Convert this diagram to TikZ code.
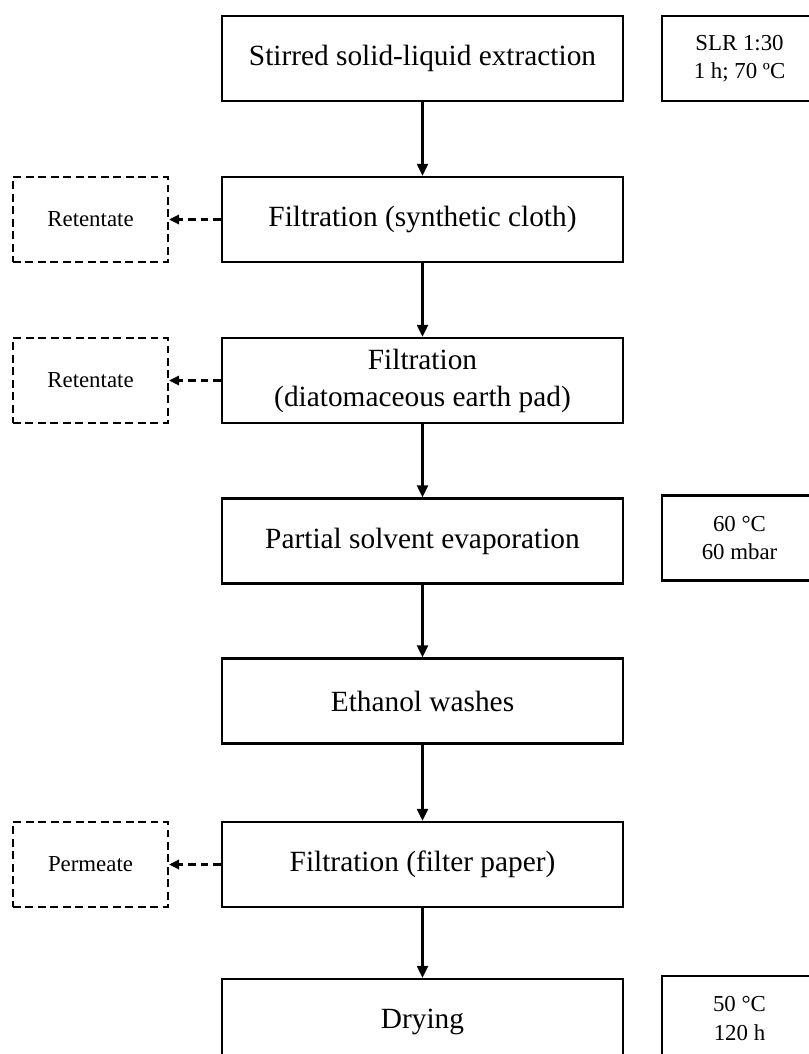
\documentclass[tikz,border=0pt]{standalone}
\usepackage{fontspec}
\setmainfont{Liberation Serif}
\usetikzlibrary{arrows.meta}

\begin{document}
\begin{tikzpicture}[x=0.02cm,y=-0.02cm,
  stage/.style={rectangle,draw,line width=1.3pt,minimum width=8.02cm,minimum height=1.7cm,
    align=center,inner sep=0pt,font=\fontsize{16.7}{21}\selectfont},
  cond/.style={rectangle,draw,line width=1.3pt,minimum width=3.1cm,minimum height=1.7cm,
    align=center,inner sep=0pt,font=\fontsize{13}{16}\selectfont},
  waste/.style={rectangle,draw,line width=1.3pt,dash pattern=on 4.5pt off 2.6pt,minimum width=3.1cm,
    minimum height=1.7cm,align=center,inner sep=0pt,font=\fontsize{13}{16}\selectfont},
  flow/.style={line width=1.2pt,-{Triangle[length=0.24cm,width=0.22cm]}},
  side/.style={line width=1.2pt,dash pattern=on 4.5pt off 2.6pt,-{Triangle[length=0.2cm,width=0.19cm]}}]
\useasboundingbox (0,0) rectangle (808,1054);

\node[stage] (extr) at (422.5,58.5) {Stirred solid-liquid extraction};
\node[stage] (filt1) at (422.5,219.5) {Filtration (synthetic cloth)};
\node[stage] (filt2) at (422.5,380.5) {Filtration\\(diatomaceous earth pad)};
\node[stage] (evap) at (422.5,541) {Partial solvent evaporation};
\node[stage] (wash) at (422.5,701) {Ethanol washes};
\node[stage] (filt3) at (422.5,864.5) {Filtration (filter paper)};
\node[stage] (dry) at (422.5,1021.5) {Drying};

\node[cond] (c1) at (739.5,58.5) {SLR 1:30\\1 h; 70 ºC};
\node[cond] (c2) at (739.5,538) {60 °C\\60 mbar};
\node[cond] (c3) at (739.5,1018.5) {50 °C\\120 h};

\node[waste] (ret1) at (90.5,219.5) {Retentate};
\node[waste] (ret2) at (90.5,380.5) {Retentate};
\node[waste] (perm) at (90.5,864.5) {Permeate};

\draw[flow] (extr) -- (filt1);
\draw[flow] (filt1) -- (filt2);
\draw[flow] (filt2) -- (evap);
\draw[flow] (evap) -- (wash);
\draw[flow] (wash) -- (filt3);
\draw[flow] (filt3) -- (dry);

\draw[side] (filt1) -- (ret1);
\draw[side] (filt2) -- (ret2);
\draw[side] (filt3) -- (perm);
\end{tikzpicture}
\end{document}
